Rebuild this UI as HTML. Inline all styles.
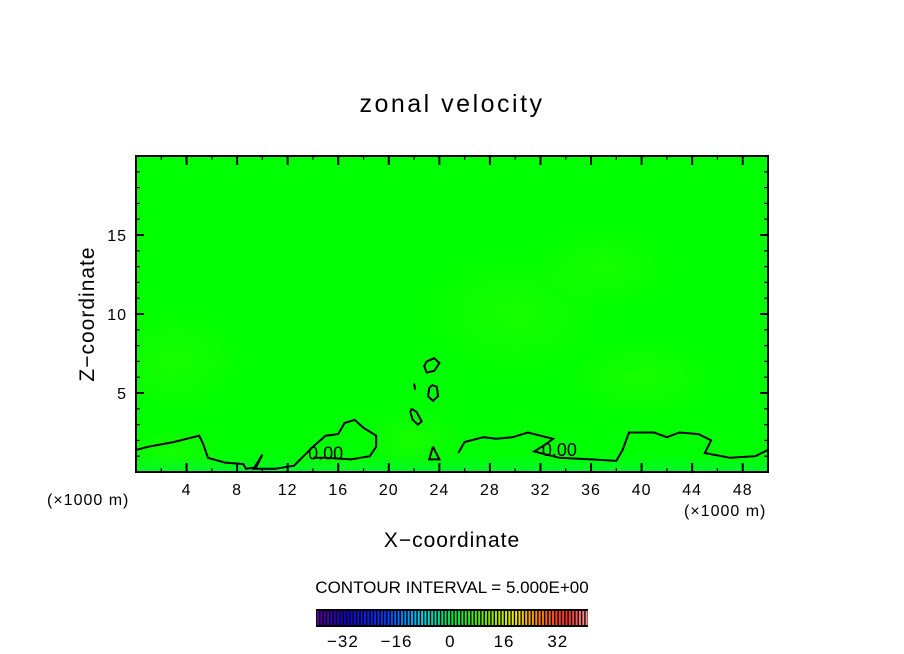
<!DOCTYPE html>
<html><head><meta charset="utf-8"><style>
body{margin:0;background:#fff;}
svg{display:block;font-family:"Liberation Sans",sans-serif;}
</style></head><body>
<svg id="chart" width="904" height="654" viewBox="0 0 904 654" xmlns="http://www.w3.org/2000/svg">
<defs>
<radialGradient id="g1" cx="0.5" cy="0.5" r="0.5"><stop offset="0" stop-color="#22ff00"/><stop offset="0.6" stop-color="#18ff00" stop-opacity="0.6"/><stop offset="1" stop-color="#00ff00" stop-opacity="0"/></radialGradient>
<linearGradient id="gb" x1="0" y1="0" x2="0" y2="1"><stop offset="0" stop-color="#00ff00" stop-opacity="0"/><stop offset="1" stop-color="#00f060"/></linearGradient>
<clipPath id="pc"><rect x="136" y="156" width="632" height="316"/></clipPath>
</defs>
<text x="452" y="112" font-size="25" text-anchor="middle" letter-spacing="2.5">zonal velocity</text>
<g id="plot"></g>
<text x="452" y="547" font-size="21" text-anchor="middle" letter-spacing="1">X−coordinate</text>
<text x="94" y="314" font-size="21" text-anchor="middle" letter-spacing="1" transform="rotate(-90 94 314)">Z−coordinate</text>
<text x="47" y="505" font-size="16" letter-spacing="1">(×1000 m)</text>
<text x="684" y="516" font-size="16" letter-spacing="1">(×1000 m)</text>
<text x="452" y="593" font-size="17" text-anchor="middle">CONTOUR INTERVAL = 5.000E+00</text>
<g id="cbar"></g>
</svg>
<script>
const xTicks=[4,8,12,16,20,24,28,32,36,40,44,48];
const yTicks=[5,10,15];
const cbTicks=[-32,-16,0,16,32];
const cbMin=-40, cbMax=41;
// contour polylines in data units [x(km), z(km)]
const contourLow=[[0,1.4],[1,1.6],[3,1.9],[5,2.3],[5.3,1.8],[5.7,0.9],[7,0.6],[8.5,0.5],[8.7,0.2],[9.5,0.3],[10,1.1],[9.3,0.2],[11,0.2],[12.5,0.4],[14,1.6],[15,2.3],[16,2.4],[16.5,3.1],[17.3,3.3],[18,2.8],[19,2.3],[19,1.6],[18.5,1],[17,0.8],[15,0.9],[14,0.9]];
const contourMid=[[25.5,1.2],[26,1.9],[27.5,2.2],[28.5,2.1],[29.8,2.2],[31,2.5],[32,2.3],[33,2.1],[32.5,1.8],[31.5,1.3],[33.5,0.9],[36,0.8],[38,0.7],[38.5,1.4],[39,2.5],[41,2.5],[42,2.2],[43,2.5],[44.5,2.4],[45.5,2.0],[45,1.2],[47,0.9],[49,1.0],[50,1.4]];
const islands=[[[23.0,7.0],[23.6,7.2],[24.0,6.9],[23.6,6.4],[23.0,6.3],[22.8,6.7],[23.0,7.0]],[[23.4,5.5],[23.8,5.4],[23.9,4.8],[23.5,4.5],[23.1,4.8],[23.2,5.3],[23.4,5.5]],[[21.8,4.0],[22.2,3.8],[22.6,3.2],[22.3,3.0],[21.9,3.3],[21.7,3.8],[21.8,4.0]],[[22.0,5.6],[22.1,5.2],[22.0,5.5]],[[23.5,1.6],[24.0,0.8],[23.2,0.8],[23.5,1.6]]];
const contourLabels=[[15,0.8,"0.00"],[33.5,1.0,"0.00"]];
const NS="http://www.w3.org/2000/svg";
const X0=136,X1=768,Y0=472,Y1=156;
const sx=v=>X0+(v/50)*(X1-X0), sy=v=>Y0-(v/20)*(Y0-Y1);
function mk(t,a,p){const e=document.createElementNS(NS,t);for(const k in a)e.setAttribute(k,a[k]);p.appendChild(e);return e;}
const P=document.getElementById('plot');
const F=mk('g',{'clip-path':'url(#pc)'},P);


let bg=mk('rect',{x:X0,y:Y1,width:X1-X0,height:Y0-Y1,fill:'#00ff00'},F);


const blobs=[[3,7,80,60],[3,1,60,35],[30,10,110,70],[40,6,90,45],[37,13,80,45],[22,2,60,40],[16,0.3,50,15]];
blobs.forEach(b=>{const e=mk('ellipse',{cx:sx(b[0]),cy:sy(b[1]),rx:b[2],ry:b[3],fill:'url(#g1)',opacity:0.7},F);

});
let bb=mk('rect',{x:X0,y:sy(1.5),width:X1-X0,height:Y0-sy(1.5),fill:'url(#gb)',opacity:0.5},F);


function line(pts,name){const d=pts.map((p,i)=>(i?'L':'M')+sx(p[0]).toFixed(1)+' '+sy(p[1]).toFixed(1)).join(' ');
const e=mk('path',{d:d,fill:'none',stroke:'#000','stroke-width':2},F);

}
line(contourLow,'contour-zero-left');
line(contourMid,'contour-zero-right');
islands.forEach(c=>line(c,'contour-island'));
contourLabels.forEach(l=>{const t=mk('text',{x:sx(l[0]),y:sy(l[1]),'font-size':18,'text-anchor':'middle'},F);t.textContent=l[2];

});
let fr=mk('rect',{x:X0,y:Y1,width:X1-X0,height:Y0-Y1,fill:'none',stroke:'#000','stroke-width':2},P);


for(let v=2;v<50;v+=2){const maj=xTicks.includes(v),L=maj?9:4;
[[Y0,-1],[Y1,1]].forEach(([y,s])=>{const e=mk('line',{x1:sx(v),x2:sx(v),y1:y,y2:y+s*L,stroke:'#000','stroke-width':maj?2:1.2},P);

});}
xTicks.forEach(v=>{const t=mk('text',{x:sx(v),y:495,'font-size':16,'text-anchor':'middle','letter-spacing':1},P);t.textContent=v;

});
for(let v=1;v<20;v++){const maj=yTicks.includes(v),L=maj?8:4;
[[X0,1],[X1,-1]].forEach(([x,s])=>{const e=mk('line',{x1:x,x2:x+s*L,y1:sy(v),y2:sy(v),stroke:'#000','stroke-width':maj?2:1.2},P);

});}
yTicks.forEach(v=>{const t=mk('text',{x:127,y:sy(v)+6,'font-size':16,'text-anchor':'end','letter-spacing':1},P);t.textContent=v;

});
// colorbar
const C=document.getElementById('cbar');
const CX0=316,CX1=588,CY=609,CH=18;
const cx=v=>CX0+(v-cbMin)/(cbMax-cbMin)*(CX1-CX0);
function col(f){const stops=[[0,[90,0,160]],[0.1,[20,0,200]],[0.25,[0,60,255]],[0.38,[0,210,240]],[0.5,[0,230,60]],[0.62,[120,230,0]],[0.72,[240,240,0]],[0.82,[255,120,0]],[0.92,[255,40,40]],[1,[255,170,170]]];
for(let i=1;i<stops.length;i++)if(f<=stops[i][0]){const a=stops[i-1],b=stops[i],t=(f-a[0])/(b[0]-a[0]);return 'rgb('+a[1].map((c,j)=>Math.round(c+(b[1][j]-c)*t)).join(',')+')';}
return 'rgb(255,170,170)';}
let cbg=mk('rect',{x:CX0,y:CY,width:CX1-CX0,height:CH,fill:'#000'},C);


for(let v=cbMin;v<cbMax;v++){const e=mk('rect',{x:cx(v)+1,y:CY+2,width:2,height:CH-4,fill:col((v-cbMin)/(cbMax-cbMin))},C);

}
cbTicks.forEach(v=>{const t=mk('text',{x:cx(v),y:647,'font-size':17,'text-anchor':'middle','letter-spacing':1},C);t.textContent=v<0?'−'+(-v):v;

});
</script>
</body></html>
